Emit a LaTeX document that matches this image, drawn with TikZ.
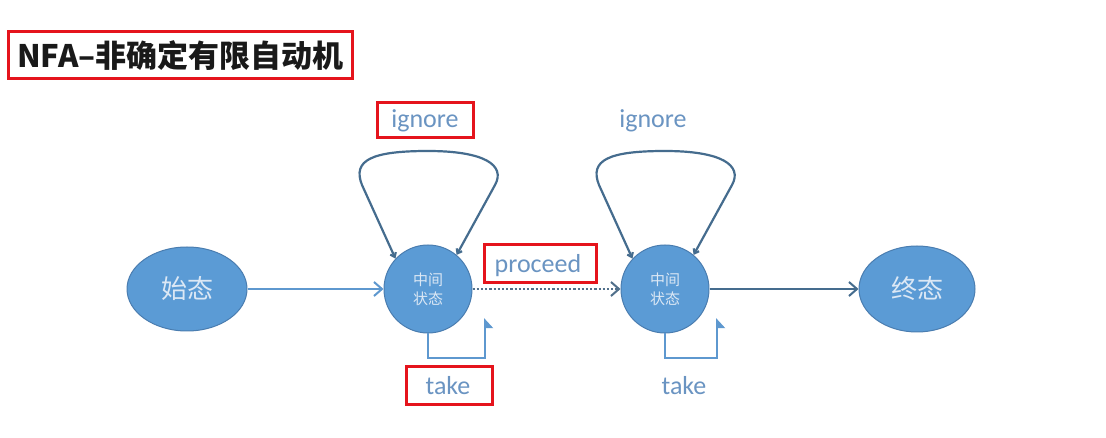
\documentclass[tikz,border=0pt]{standalone}
\usepackage{fontspec}
\usetikzlibrary{arrows.meta,shapes.geometric}
\newfontfamily\cjk{Noto Sans CJK SC}
\newfontfamily\lat{Carlito}
\definecolor{nodefill}{HTML}{5B9BD5}
\definecolor{nodeedge}{HTML}{4A7DB0}
\definecolor{nodetext}{HTML}{DCE8F5}
\definecolor{lbl}{HTML}{6A94C2}
\definecolor{darkline}{HTML}{456C8E}
\definecolor{lightline}{HTML}{5E98CF}
\definecolor{redbox}{HTML}{E5141C}
\tikzset{
  statebox/.style={ellipse, fill=nodefill, draw=nodeedge, line width=1pt, text=nodetext, inner sep=0pt},
  midbox/.style={circle, fill=nodefill, draw=nodeedge, line width=1pt, text=nodetext, inner sep=0pt, minimum size=88pt, align=center, font=\cjk\fontsize{15}{19}\selectfont},
  lab/.style={text=lbl, font=\lat\fontsize{26}{30}\selectfont, inner sep=0pt},
  redframe/.style={draw=redbox, line width=3pt},
  arrowhead/.style={-{Straight Barb[length=8pt,width=14pt,line width=2pt]}},
  loopline/.style={darkline, line width=2.2pt, line join=round, {Straight Barb[length=4pt,width=6pt]}-{Straight Barb[length=4pt,width=6pt]}},
  takeline/.style={lightline, line width=2pt, -{Triangle[right, length=9pt, width=16pt]}},
}
\begin{document}
\begin{tikzpicture}[x=1pt,y=-1pt]
\useasboundingbox[fill=white] (0,0) rectangle (1106,438);
% title
\node[redframe, minimum width=344pt, minimum height=47pt, inner sep=0pt] (tbox) at (180,55.5) {};
\node[anchor=west, inner sep=0pt, font=\cjk\bfseries\fontsize{31}{35}\selectfont, text=black!90] (title) at (17,56) {NFA–非确定有限自动机};
% states
\node[statebox, minimum width=120pt, minimum height=84pt, font=\cjk\fontsize{26}{30}\selectfont] (s) at (187,289) {始态};
\node[midbox] (m1) at (428,289) {中间\\状态};
\node[midbox] (m2) at (665,289) {中间\\状态};
\node[statebox, minimum width=116pt, minimum height=86pt, font=\cjk\fontsize{26}{30}\selectfont] (e) at (917,289) {终态};
% main connectors
\draw[lightline, line width=2pt, arrowhead] (s) -- (m1);
\draw[darkline!80!gray, line width=2.2pt, dotted, arrowhead] (m1) -- (m2);
\draw[darkline, line width=2pt, arrowhead] (m2) -- (e);
% ignore loops
\draw[loopline] (m1.137) -- (362,185) .. controls (352,160) and (372,151) .. (428,151) .. controls (484,151) and (506,165) .. (495,185) -- (m1.50);
\draw[loopline] (m2.137) -- (599,185) .. controls (589,160) and (609,151) .. (665,151) .. controls (721,151) and (743,165) .. (732,185) -- (m2.50);
% take loops
\coordinate (t1a) at (428,358);
\coordinate (t1b) at (485,358);
\coordinate (t1c) at (485,318);
\draw[takeline] (m1.south) -- (t1a) -- (t1b) -- (t1c);
\coordinate (t2a) at (665,358);
\coordinate (t2b) at (717,358);
\coordinate (t2c) at (717,318);
\draw[takeline] (m2.south) -- (t2a) -- (t2b) -- (t2c);
% labels
\node[lab] (ig1) at (425,121) {ignore};
\node[redframe, minimum width=96pt, minimum height=35pt, inner sep=0pt] (ig1box) at (425,120.5) {};
\node[lab] (ig2) at (653,121) {ignore};
\node[lab] (pr) at (538,266) {proceed};
\node[redframe, minimum width=112pt, minimum height=38pt, inner sep=0pt] (prbox) at (540,264) {};
\node[lab] (tk1) at (448,386) {take};
\node[redframe, minimum width=86pt, minimum height=38pt, inner sep=0pt] (tk1box) at (449,385) {};
\node[lab] (tk2) at (684,386) {take};
\end{tikzpicture}
\end{document}
